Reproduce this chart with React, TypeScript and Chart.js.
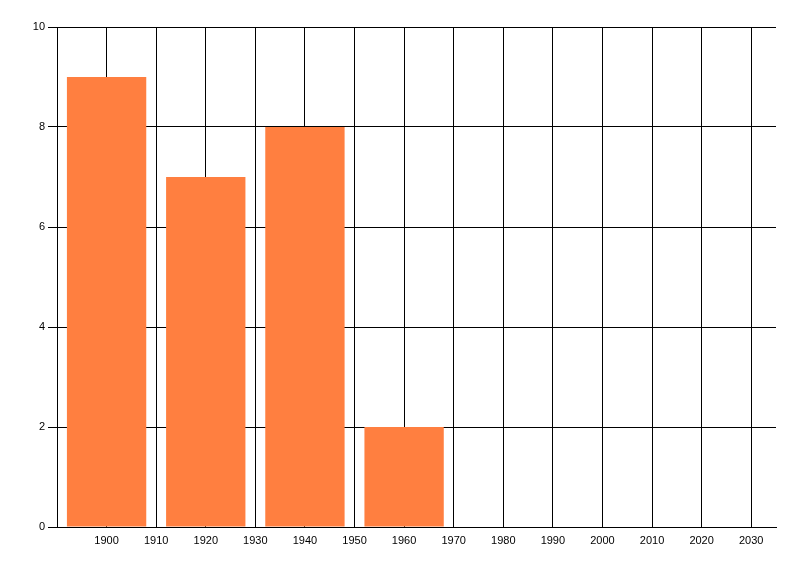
import React, { useEffect, useRef } from "react";
import { Chart, registerables } from "chart.js";

Chart.register(...registerables);

const years = [1900, 1920, 1940, 1960];
const values = [9, 7, 8, 2];
const xTicks = [1900, 1910, 1920, 1930, 1940, 1950, 1960, 1970, 1980, 1990, 2000, 2010, 2020, 2030];
const yTicks = [0, 2, 4, 6, 8, 10];

export default function App() {
  const ref = useRef<HTMLCanvasElement | null>(null);
  useEffect(() => {
    if (!ref.current) return;
    const chart = new Chart(ref.current, {
      type: "bar",
      data: {
        datasets: [
          {
            data: years.map((y, i) => ({ x: y, y: values[i] })),
            backgroundColor: "#FF7F40",
            borderWidth: 0,
            barPercentage: 1.6,
            categoryPercentage: 1,
          },
        ],
      },
      options: {
        animation: false,
        responsive: false,
        maintainAspectRatio: false,
        layout: { padding: { left: 0, right: 24, top: 27, bottom: 0 } },
        plugins: { legend: { display: false }, tooltip: { enabled: false } },
        scales: {
          x: {
            type: "linear",
            min: 1890,
            max: 2035,
            offset: false,
            afterBuildTicks: (s: any) => {
              s.ticks = xTicks.map((v) => ({ value: v }));
            },
            afterFit: (s: any) => {
              s.height = 49;
            },
            ticks: {
              color: "#000",
              font: { family: "Liberation Sans, Arial, sans-serif", size: 11 },
              padding: 7,
              maxRotation: 0,
              autoSkip: false,
              callback: (v: any) => String(v),
            },
            grid: { color: "#000", lineWidth: 1, drawTicks: false, offset: false },
            border: { color: "#000", width: 1 },
          },
          y: {
            min: 0,
            max: 10,
            afterBuildTicks: (s: any) => {
              s.ticks = yTicks.map((v) => ({ value: v }));
            },
            afterFit: (s: any) => {
              s.width = 57;
            },
            ticks: {
              color: "#000",
              font: { family: "Liberation Sans, Arial, sans-serif", size: 11 },
              padding: 3,
            },
            grid: { color: "#000", lineWidth: 1, drawTicks: true, tickLength: 9 },
            border: { color: "#000", width: 1 },
          },
        },
      },
    });
    return () => chart.destroy();
  }, []);
  return (
    <div style={{ position: "fixed", left: 0, top: 0, width: 800, height: 576, background: "#fff" }}>
      <canvas ref={ref} width={800} height={576} style={{ width: 800, height: 576, display: "block" }} />
    </div>
  );
}
